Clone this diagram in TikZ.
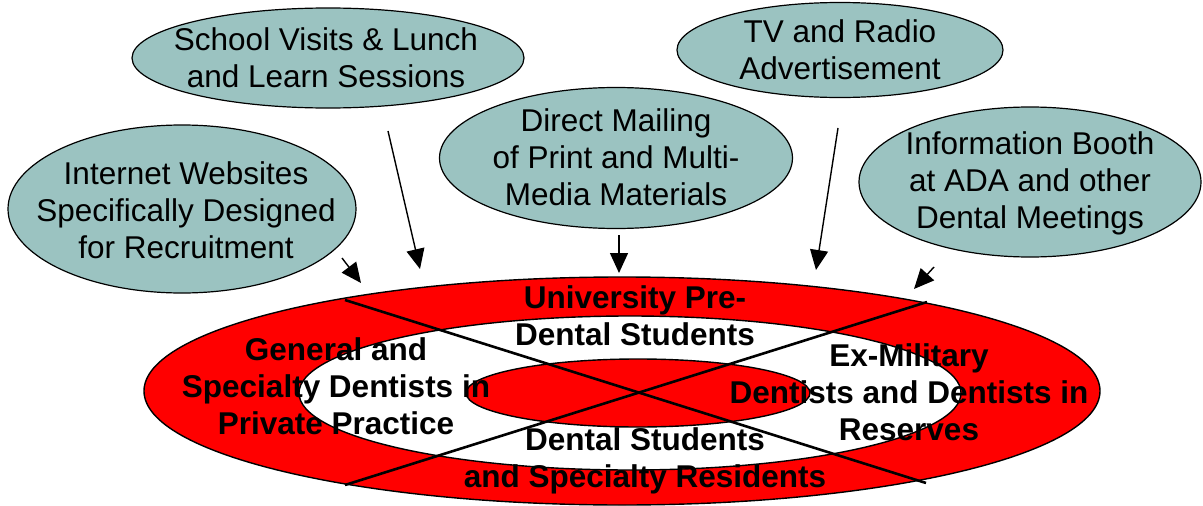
\documentclass[tikz,border=0pt]{standalone}
\usepackage{fontspec}
\setmainfont{Liberation Sans}
\usetikzlibrary{shapes.geometric,arrows.meta}
\definecolor{bubblefill}{RGB}{155,195,193}
\definecolor{ringred}{RGB}{255,0,0}
\begin{document}
\begin{tikzpicture}[x=1pt,y=-1pt,
  bubble/.style={ellipse, draw=black, line width=1.2pt, fill=bubblefill, inner sep=0pt},
  ring/.style={ellipse, draw=black, line width=1.4pt, inner sep=0pt},
  btext/.style={align=center, font=\fontsize{31.5}{37}\selectfont, inner sep=0pt},
  rtext/.style={align=center, font=\fontsize{31.5}{37}\selectfont\bfseries, inner sep=0pt},
  feed/.style={line width=1.4pt, -{Triangle[length=20pt,width=18pt]}},
  crossline/.style={line width=2.6pt}
]
\useasboundingbox (0,0) rectangle (1203,506);

% target rings
\node[ring, fill=ringred, minimum width=956pt, minimum height=228pt] (outer) at (622,391) {};
\node[ring, fill=white, minimum width=662pt, minimum height=154pt] (middle) at (630,393) {};
\node[ring, fill=ringred, minimum width=344pt, minimum height=68pt] (inner) at (638,393) {};

\coordinate (xul) at (345,300); \coordinate (xlr) at (926,483);
\coordinate (xll) at (345,485); \coordinate (xur) at (927,302);
\draw[crossline] (xul) -- (xlr);
\draw[crossline] (xll) -- (xur);

% ring labels
\node[rtext] (upre) at (635,316) {University Pre-\\Dental Students};
\node[rtext] (dstud) at (645,461) {Dental Students\\and Specialty Residents};
\node[rtext] (gen) at (336,386) {General and\\Specialty Dentists in\\Private Practice};
\node[rtext] (exmil) at (909,392) {Ex-Military\\Dentists and Dentists in\\Reserves};

% bubbles
\node[bubble, minimum width=348pt, minimum height=168pt] (web) at (182,209) {};
\node[btext] (webt) at (186,210) {Internet Websites\\Specifically Designed\\for Recruitment};

\node[bubble, minimum width=392pt, minimum height=100pt] (school) at (328,58) {};
\node[btext] (schoolt) at (326,58) {School Visits \& Lunch\\and Learn Sessions};

\node[bubble, minimum width=353pt, minimum height=141pt] (mail) at (616,158) {};
\node[btext] (mailt) at (616,157) {Direct Mailing\\of Print and Multi-\\Media Materials};

\node[bubble, minimum width=326pt, minimum height=95pt] (tv) at (840,50) {};
\node[btext] (tvt) at (840,50) {TV and Radio\\Advertisement};

\node[bubble, minimum width=342pt, minimum height=150pt] (booth) at (1030,182) {};
\node[btext] (bootht) at (1030,183) {Information Booth\\at ADA and other\\Dental Meetings};

% arrows
\coordinate (a1s) at (342,258); \coordinate (a1e) at (361,283);
\coordinate (a2s) at (388,131); \coordinate (a2e) at (420,269);
\coordinate (a3s) at (619,235); \coordinate (a3e) at (619,273);
\coordinate (a4s) at (838,128); \coordinate (a4e) at (816,270);
\coordinate (a5s) at (934,267); \coordinate (a5e) at (914,289);
\draw[feed] (a1s) -- (a1e);
\draw[feed] (a2s) -- (a2e);
\draw[feed] (a3s) -- (a3e);
\draw[feed] (a4s) -- (a4e);
\draw[feed] (a5s) -- (a5e);
\end{tikzpicture}
\end{document}
